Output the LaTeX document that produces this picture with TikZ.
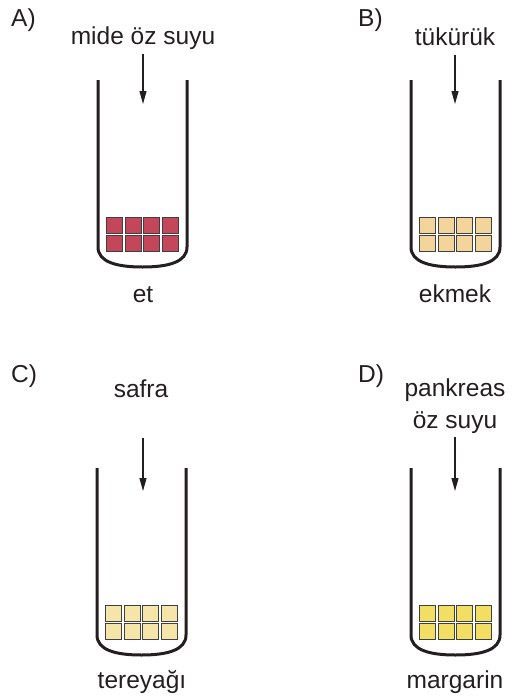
\documentclass[tikz,border=0pt]{standalone}
\usepackage{fontspec}
\setmainfont{Liberation Sans}
\usetikzlibrary{arrows.meta}
\definecolor{ink}{HTML}{231F20}
\definecolor{meat}{HTML}{C4465B}
\definecolor{bread}{HTML}{F3D59C}
\definecolor{butter}{HTML}{F6E5A8}
\definecolor{marg}{HTML}{F2DE62}
\newcommand\testtube[3]{%
  \draw[wall] ({#1-44.5},#2) -- ({#1-44.5},{#2+167})
    .. controls ({#1-44.5},{#2+182}) and ({#1-26},{#2+187}) .. ({#1},{#2+187})
    .. controls ({#1+26},{#2+187}) and ({#1+44.5},{#2+182}) .. ({#1+44.5},{#2+167})
    -- ({#1+44.5},#2);
  \foreach \i in {0,...,3}{\foreach \j in {0,1}{
    \filldraw[cell, fill=#3] ({#1-36+\i*18.5},{#2+137+\j*18}) rectangle +(16,16);}}
}
\begin{document}
\begin{tikzpicture}[x=1pt,y=-1pt,
  lbl/.style={font=\fontsize{24.5}{28}\selectfont, text=ink, inner sep=0pt, anchor=base},
  tag/.style={lbl, anchor=base west},
  wall/.style={line width=3pt, draw=ink},
  feed/.style={line width=1.2pt, draw=ink, -{Triangle[length=13pt,width=7pt]}},
  cell/.style={draw=black!75, line width=0.8pt}]
\useasboundingbox (0,0) rectangle (513,699);

% labels
\node[tag] (la) at (11,26) {A)};
\node[lbl] (ta) at (143,44) {mide öz suyu};
\node[tag] (lb) at (358,26) {B)};
\node[lbl] (tb) at (455,45) {tükürük};
\node[lbl] (ea) at (143,302) {et};
\node[lbl] (eb) at (455,302) {ekmek};
\node[tag] (lc) at (11,382) {C)};
\node[lbl] (tc) at (141,397) {safra};
\node[tag] (ld) at (358,382) {D)};
\node[lbl] (td1) at (455,396) {pankreas};
\node[lbl] (td2) at (455,428) {öz suyu};
\node[lbl] (ec) at (142,688) {tereyağı};
\node[lbl] (ed) at (455,688) {margarin};

% arrows
\coordinate (aS) at (143,54);  \coordinate (aE) at (143,104);
\coordinate (bS) at (455,55);  \coordinate (bE) at (455,104);
\coordinate (cS) at (143,438); \coordinate (cE) at (143,491);
\coordinate (dS) at (455,437); \coordinate (dE) at (455,491);
\draw[feed] (aS) -- (aE);
\draw[feed] (bS) -- (bE);
\draw[feed] (cS) -- (cE);
\draw[feed] (dS) -- (dE);

% tubes
\testtube{142.5}{80}{meat}
\testtube{455.5}{80}{bread}
\testtube{141.5}{468}{butter}
\testtube{455.5}{468}{marg}
\end{tikzpicture}
\end{document}
